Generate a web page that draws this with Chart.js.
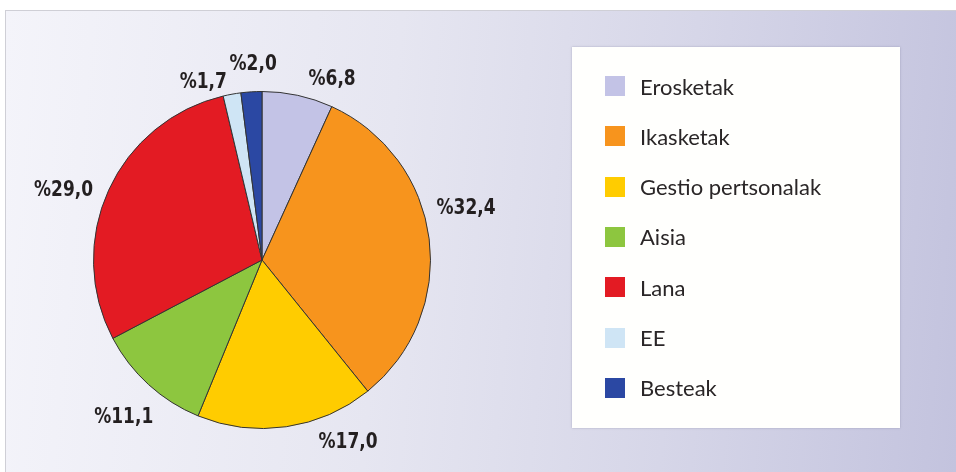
<!DOCTYPE html>
<html>
<head>
<meta charset="utf-8">
<script src="https://cdn.jsdelivr.net/npm/chart.js@4.4.1/dist/chart.umd.min.js"></script>
<style>
  html, body { margin: 0; padding: 0; background: #fff; }
  #stage { position: relative; width: 956px; height: 472px; overflow: hidden; }
  #panel {
    position: absolute; left: 5px; top: 10px; right: 0; bottom: 0;
    border-top: 1px solid #cfcfd6; border-left: 1px solid #cfcfd6;
    background: linear-gradient(95deg, #f4f4fa 0%, #e6e6f1 40%, #d6d6e8 70%, #c3c3de 100%);
  }
  #chartBox { position: absolute; left: 0; top: 0; width: 956px; height: 472px; }
  #legend {
    position: absolute; left: 572px; top: 47px; width: 328px; height: 381px;
    background: #fffffd; box-shadow: 0 0 2px rgba(120,120,150,0.5);
    box-sizing: border-box;
  }
  .item { position: absolute; left: 33px; height: 24px; display: flex; align-items: center;
    font-family: Lato, "Open Sans", sans-serif; font-size: 22px; color: #2a2627; }
  .sw { width: 20px; height: 20px; margin-right: 15px; }
</style>
</head>
<body>
<div id="stage">
  <div id="panel"></div>
  <div id="chartBox"><canvas id="c" width="956" height="472"></canvas></div>
  <div id="legend"></div>
</div>
<script>
// Categories and shares (%), clockwise from 12 o'clock
const categories = ['Erosketak', 'Ikasketak', 'Gestio pertsonalak', 'Aisia', 'Lana', 'EE', 'Besteak'];
const shares = [6.8, 32.4, 17.0, 11.1, 29.0, 1.7, 2.0];
const sliceColors = ['#c3c3e6', '#f7941d', '#ffcc00', '#8dc63f', '#e31b23', '#cfe5f5', '#2b48a3'];

// label placement tweaks around each slice (degrees, px beyond the rim)
const labelTurn = [9, -7, -17, -1, -5, -8, 1];
const labelGap = [25, 42, 33, 41, 42, 19, 27];

// HTML legend built from the same arrays
const legend = document.getElementById('legend');
categories.forEach((name, i) => {
    const row = document.createElement('div');
    row.className = 'item';
    row.style.top = (27 + i * 50.3) + 'px';
    row.innerHTML = `<span class="sw" style="background:${sliceColors[i]}"></span>${name}`;
    legend.appendChild(row);
});

const pctLabels = {
    id: 'pctLabels',
    afterDatasetsDraw(chart) {
        const ctx = chart.ctx;
        const meta = chart.getDatasetMeta(0);
        ctx.save();
        ctx.font = 'bold 22px "DejaVu Sans Condensed", "Liberation Sans Narrow", sans-serif';
        ctx.fillStyle = '#231f20';
        ctx.textAlign = 'center';
        ctx.textBaseline = 'middle';
        meta.data.forEach((arc, i) => {
            const p = arc.getProps(['x', 'y', 'startAngle', 'endAngle', 'outerRadius'], true);
            const mid = (p.startAngle + p.endAngle) / 2 + labelTurn[i] * Math.PI / 180;
            const r = p.outerRadius + labelGap[i];
            const txt = '%' + shares[i].toFixed(1).replace('.', ',');
            const lx = p.x + Math.cos(mid) * r;
            const ly = p.y + Math.sin(mid) * r;
            // squeeze glyphs horizontally to get the narrow bold look
            ctx.save();
            ctx.translate(lx, ly);
            ctx.scale(0.86, 1);
            ctx.fillText(txt, 0, 0);
            ctx.restore();
        });
        ctx.restore();
    }
};

new Chart(document.getElementById('c'), {
    type: 'pie',
    data: {
        labels: categories,
        datasets: [{
            data: shares,
            backgroundColor: sliceColors,
            borderColor: '#333333',
            borderWidth: 1
        }]
    },
    options: {
        responsive: false,
        animation: false,
        layout: { padding: { left: 93, right: 525, top: 91, bottom: 43 } },
        plugins: {
            legend: { display: false },
            tooltip: { enabled: false }
        }
    },
    plugins: [pctLabels]
});
</script>
</body>
</html>
